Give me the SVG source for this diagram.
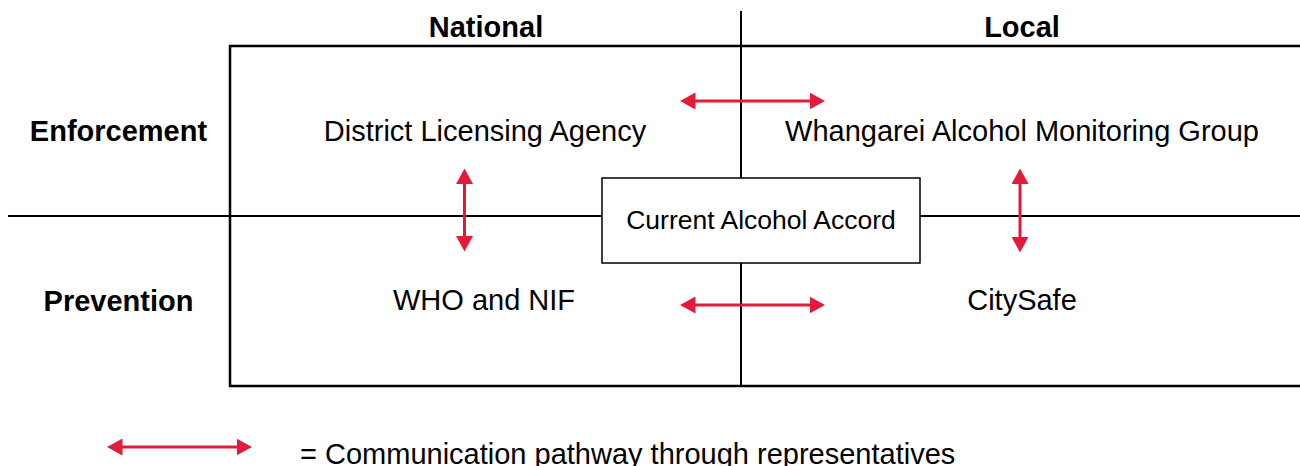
<svg xmlns="http://www.w3.org/2000/svg" width="1300" height="466" viewBox="0 0 1300 466">
<style>
.hdr{font-family:"Liberation Sans",Arial,sans-serif;font-weight:bold;font-size:29px;fill:#000;text-anchor:middle}
.lbl{font-family:"Liberation Sans",Arial,sans-serif;font-size:29px;fill:#000;text-anchor:middle}
.grid{stroke:#000;fill:none}
.arr{stroke:#E31B3A;stroke-width:3;fill:none;marker-start:url(#ah);marker-end:url(#ah)}
</style>
<defs>
<marker id="ah" markerUnits="userSpaceOnUse" markerWidth="16" markerHeight="17" viewBox="0 0 16 17" refX="0.5" refY="8.5" orient="auto-start-reverse">
<path d="M0,0 L15.5,8.5 L0,17 z" fill="#E31B3A"/>
</marker>
</defs>
<rect width="1300" height="466" fill="#fff"/>
<g id="grid">
<rect class="grid" x="230" y="46" width="1080" height="340" stroke-width="2.5"/>
<line class="grid" x1="741" y1="11" x2="741" y2="386" stroke-width="2"/>
<line class="grid" x1="8" y1="216" x2="1300" y2="216" stroke-width="2"/>
</g>
<g id="headers">
<text class="hdr" x="486" y="37">National</text>
<text class="hdr" x="1022" y="37">Local</text>
<text class="hdr" x="118.5" y="141">Enforcement</text>
<text class="hdr" x="118.5" y="311">Prevention</text>
</g>
<g id="district">
<text class="lbl" x="485" y="141">District Licensing Agency</text>
</g>
<g id="whangarei">
<text class="lbl" x="1022" y="141">Whangarei Alcohol Monitoring Group</text>
</g>
<g id="who">
<text class="lbl" x="484" y="310">WHO and NIF</text>
</g>
<g id="citysafe">
<text class="lbl" x="1022" y="310">CitySafe</text>
</g>
<g id="accord">
<rect x="602" y="178" width="318" height="85" fill="#fff" stroke="#000" stroke-width="1.5"/>
<text class="lbl" x="761" y="228.5" style="font-size:26.5px">Current Alcohol Accord</text>
</g>
<g id="connectors">
<line class="arr" x1="695" y1="101" x2="810" y2="101"/>
<line class="arr" x1="695" y1="305" x2="810" y2="305"/>
<line class="arr" x1="464.5" y1="183.5" x2="464.5" y2="236.5"/>
<line class="arr" x1="1020" y1="183.5" x2="1020" y2="237.5"/>
</g>
<g id="legend">
<line class="arr" x1="122" y1="447" x2="237" y2="447"/>
<text x="300" y="464" style="font-family:'Liberation Sans',Arial,sans-serif;font-size:29px;fill:#000">= Communication pathway through representatives</text>
</g>
</svg>
